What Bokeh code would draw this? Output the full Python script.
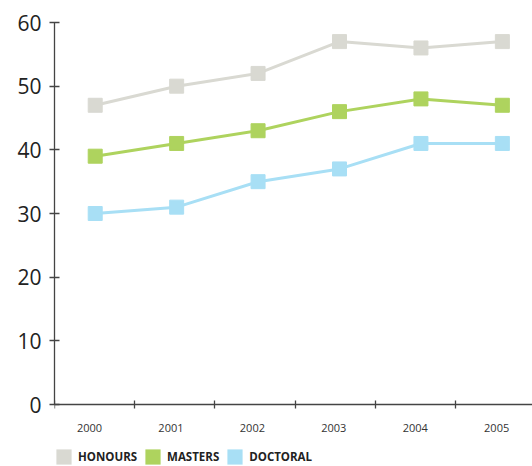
from bokeh.plotting import figure
from bokeh.models import (Range1d, FixedTicker, Legend, LegendItem, ColumnDataSource)
from bokeh.embed import file_html
from bokeh.resources import INLINE

years = ["2000", "2001", "2002", "2003", "2004", "2005"]
honours = [47, 50, 52, 57, 56, 57]
masters = [39, 41, 43, 46, 48, 47]
doctoral = [30, 31, 35, 37, 41, 41]
series_names = ["HONOURS", "MASTERS", "DOCTORAL"]
colors = ["#d9d9d2", "#aed35e", "#a8dff5"]
y_ticks = [0, 10, 20, 30, 40, 50, 60]

x = list(range(len(years)))

# frame extends below zero so that the legend can sit under the x axis
p = figure(frame_width=478, frame_height=444, output_backend="svg", toolbar_location=None,
           x_range=Range1d(-0.5, 5.37), y_range=Range1d(-9.738, 60),
           min_border_left=54, min_border_top=22, min_border_right=0,
           min_border_bottom=0)
p.outline_line_color = None
p.grid.visible = False
p.background_fill_color = "white"
p.border_fill_color = "white"

renderers = []
for vals, col in zip([honours, masters, doctoral], colors):
    src = ColumnDataSource(dict(x=x, y=vals))
    p.line("x", "y", source=src, line_color=col, line_width=3)
    p.scatter("x", "y", source=src, marker="square", size=14, fill_color=col,
              line_color=col)
    r = p.rect("x", "y", source=src, width=0.1, height=1, fill_color=col,
               line_color=None, visible=False)
    renderers.append(r)

# y axis
ya = p.yaxis[0]
ya.ticker = FixedTicker(ticks=y_ticks, minor_ticks=[])
ya.bounds = (0, 60)
ya.axis_line_color = "#444444"
ya.axis_line_width = 1.3
ya.major_tick_line_color = "#444444"
ya.major_tick_line_width = 1.3
ya.major_tick_in = 5
ya.major_tick_out = 5
ya.minor_tick_line_color = None
ya.major_label_standoff = 8
ya.major_label_text_font = "Open Sans"
ya.major_label_text_font_size = "21px"
ya.major_label_text_color = "#222222"

# x axis, pinned at y = 0
xa = p.xaxis[0]
xa.fixed_location = 0
label_pos = [i - 0.07 for i in x]
xa.ticker = FixedTicker(ticks=label_pos,
                        minor_ticks=[-0.5 + k * 0.985 for k in range(6)])
xa.major_label_overrides = {lp: y for lp, y in zip(label_pos, years)}
xa.axis_line_color = "#444444"
xa.axis_line_width = 1.3
xa.major_tick_line_color = None
xa.major_tick_in = 0
xa.major_tick_out = 0
xa.minor_tick_line_color = "#444444"
xa.minor_tick_line_width = 1.3
xa.minor_tick_in = 4
xa.minor_tick_out = 4
xa.major_label_standoff = 15
xa.major_label_text_font = "Open Sans"
xa.major_label_text_font_size = "11px"
xa.major_label_text_color = "#333333"

legend = Legend(items=[LegendItem(label=n, renderers=[r]) for n, r in zip(series_names, renderers)],
                orientation="horizontal", location=(0, 0))
legend.glyph_width = 19
legend.glyph_height = 19
legend.label_height = 19
legend.label_standoff = 5
legend.spacing = 6
legend.padding = 0
legend.margin = 0
legend.border_line_color = None
legend.background_fill_alpha = 0
legend.label_text_font = "Open Sans"
legend.label_text_font_style = "bold"
legend.label_text_font_size = "11.5px"
legend.label_text_color = "#222222"
p.add_layout(legend)

open("out.html", "w").write(file_html(p, INLINE))
